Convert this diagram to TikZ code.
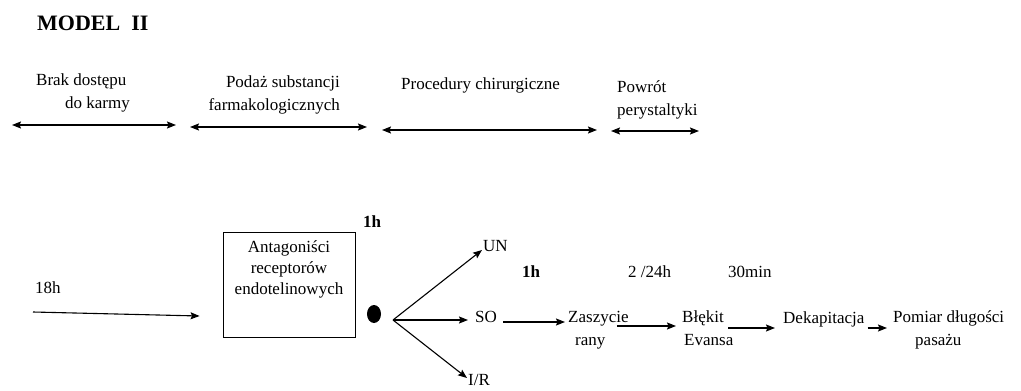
\documentclass[tikz,border=0pt]{standalone}
\usepackage{fontspec}
\setmainfont{Liberation Serif}
\usetikzlibrary{arrows.meta,shapes.geometric}
\begin{document}
\begin{tikzpicture}[x=1pt,y=-1pt,
  txt/.style={inner sep=0pt,font=\fontsize{17}{23}\selectfont},
  btxt/.style={inner sep=0pt,font=\fontsize{17}{23}\selectfont\bfseries},
  arr/.style={line width=1.1pt,-{Stealth[length=9pt,width=7pt,inset=1.5pt]}},
  darr/.style={line width=1.1pt,{Stealth[length=9pt,width=7pt,inset=1.5pt]}-{Stealth[length=9pt,width=7pt,inset=1.5pt]}}]
\useasboundingbox (0,0) rectangle (1021,391);
% title
\node[inner sep=0pt,anchor=base west,font=\fontsize{22}{26}\selectfont\bfseries] (title) at (37,30) {MODEL\ \ II};
% phase labels (base = baseline of last line)
\node[txt,anchor=base west,align=left] (p1) at (36,108) {Brak dostępu\\\hspace*{29pt}do karmy};
\node[txt,anchor=base east,align=right] (p2) at (340,110) {Podaż substancji\\farmakologicznych};
\node[txt,anchor=base west] (p3) at (401,89) {Procedury chirurgiczne};
\node[txt,anchor=base west,align=left] (p4) at (617,115) {Powrót\\perystaltyki};
% phase arrows
\coordinate (a1l) at (12,125); \coordinate (a1r) at (176,125);
\coordinate (a2l) at (190,127); \coordinate (a2r) at (367,127);
\coordinate (a3l) at (382,130); \coordinate (a3r) at (597,130);
\coordinate (a4l) at (611,131); \coordinate (a4r) at (699,131);
\draw[darr] (a1l) -- (a1r);
\draw[darr] (a2l) -- (a2r);
\draw[darr] (a3l) -- (a3r);
\draw[darr] (a4l) -- (a4r);
% bottom
\node[txt,anchor=base west] (h18) at (35,293) {18h};
\coordinate (s18) at (33,312);
\node[draw,line width=0.9pt,minimum width=132pt,minimum height=105pt,inner sep=0pt] (box) at (289,284.5) {};
\node[txt,anchor=base,align=center,font=\fontsize{17}{21}\selectfont] (boxt) at (289,294) {Antagoniści\\receptorów\\endotelinowych};
\draw[arr] (s18) -- ([xshift=-23pt]box.west |- 0,316);
\node[btxt,anchor=base west] (h1a) at (363,227) {1h};
\node[fill,ellipse,minimum width=14pt,minimum height=18pt,inner sep=0pt] (dot) at (374,314) {};
\coordinate (fan) at (393,320);
\node[txt,anchor=base west] (un) at (483,251) {UN};
\node[txt,anchor=base west] (so) at (475,322) {SO};
\node[txt,anchor=base west] (ir) at (468,385) {I/R};
\draw[arr] (fan) -- (482,250) coordinate (unt);
\draw[arr] (fan) -- (468,320) coordinate (sot);
\draw[arr] (fan) -- (467,378) coordinate (irt);
% times
\node[btxt,anchor=base west] (h1b) at (522,277) {1h};
\node[txt,anchor=base west] (h24) at (628,277) {2 /24h};
\node[txt,anchor=base west] (m30) at (728,277) {30min};
% chain
\node[txt,anchor=base west,align=left] (zas) at (568,345) {Zaszycie\\\hspace*{7pt}rany};
\node[txt,anchor=base west,align=left] (ble) at (682,345) {Błękit\\\hspace*{2pt}Evansa};
\node[txt,anchor=base west] (dek) at (783,323) {Dekapitacja};
\node[txt,anchor=base west,align=left] (pom) at (893,345) {Pomiar długości\\\hspace*{22pt}pasażu};
\draw[arr] ([xshift=6pt]so.east |- 0,322) -- ([xshift=-3pt]zas.west |- 0,322);
\draw[arr] ([xshift=-12pt]zas.east |- 0,326) -- ([xshift=-6pt]ble.west |- 0,326);
\draw[arr] ([xshift=-5pt]ble.east |- 0,328) -- ([xshift=-8pt]dek.west |- 0,328);
\draw[arr] ([xshift=3pt]dek.east |- 0,328) -- ([xshift=-6pt]pom.west |- 0,328);
\end{tikzpicture}
\end{document}
